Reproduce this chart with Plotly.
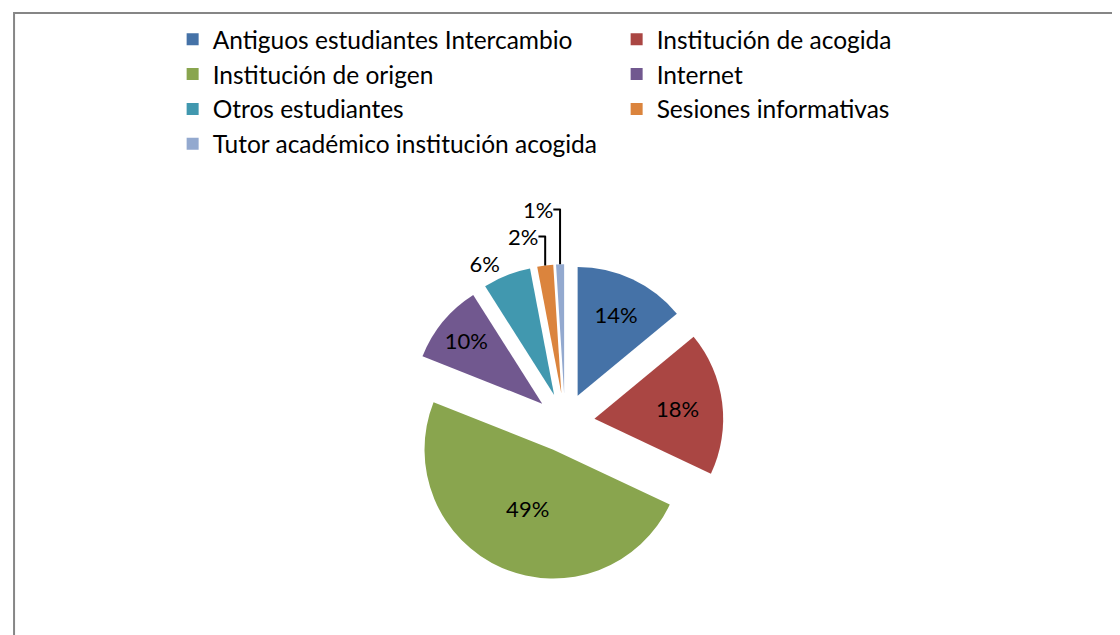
import plotly.graph_objects as go

labels = [
    "Antiguos estudiantes Intercambio",
    "Institución de acogida",
    "Institución de origen",
    "Internet",
    "Otros estudiantes",
    "Sesiones informativas",
    "Tutor académico institución acogida",
]
values = [14, 18, 49, 10, 6, 2, 1]
colors = ["#4572A7", "#AA4643", "#89A54E", "#71588F", "#4198AF", "#DB843D", "#93A9CF"]
text_positions = ["inside", "inside", "inside", "inside", "outside", "outside", "outside"]

FONT = "Lato, 'Open Sans', sans-serif"

fig = go.Figure(
    go.Pie(
        labels=labels,
        values=values,
        sort=False,
        direction="clockwise",
        rotation=0,
        pull=[0.23] * len(values),
        marker=dict(colors=colors, line=dict(width=0)),
        texttemplate="%{value}%",
        textposition=text_positions,
        insidetextorientation="horizontal",
        textfont=dict(family=FONT, size=22, color="black"),
        hoverinfo="skip",
        domain=dict(x=[0.354, 0.6407], y=[0.0848, 0.5908]),
    )
)

fig.add_shape(
    type="rect", xref="paper", yref="paper",
    x0=0.0054, x1=0.9982, y0=-0.1, y1=0.992,
    line=dict(color="#868686", width=2), fillcolor="rgba(0,0,0,0)",
)

fig.update_layout(
    width=1120,
    height=635,
    margin=dict(l=0, r=0, t=0, b=0),
    paper_bgcolor="white",
    plot_bgcolor="white",
    font=dict(family=FONT, color="black"),
    legend=dict(
        orientation="h",
        x=0.147, xanchor="left",
        y=0.986, yanchor="top",
        entrywidth=399, entrywidthmode="pixels",
        font=dict(family=FONT, size=24.5, color="black"),
        bgcolor="rgba(0,0,0,0)",
        traceorder="normal",
        itemclick=False,
    ),
)

fig.write_html("out.html")
